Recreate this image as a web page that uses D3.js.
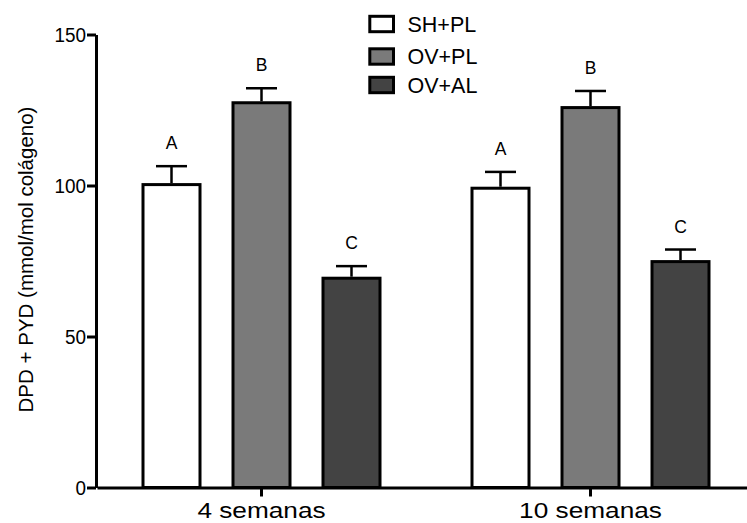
<!DOCTYPE html>
<html>
<head>
<meta charset="utf-8">
<script src="https://cdn.jsdelivr.net/npm/d3@7"></script>
<style>
  body { margin: 0; background: #fff; }
  text { font-family: "Liberation Sans", Arial, sans-serif; fill: #000; }
</style>
</head>
<body>
<script>
// data
var groups = ["4 semanas", "10 semanas"];
var series = ["SH+PL", "OV+PL", "OV+AL"];
var colors = ["#ffffff", "#7a7a7a", "#434343"];
var means4 = [100.3, 127.4, 69.3];
var sem4 = [6.1, 4.8, 4.0];
var means10 = [99.1, 125.8, 74.8];
var sem10 = [5.4, 5.5, 4.0];
var letters = ["A", "B", "C"];
var yTicks = [0, 50, 100, 150];
var yTitle = "DPD + PYD (mmol/mol colágeno)";

var W = 747, H = 523;
var legendY = [24, 56.5, 85];

var rows = [];
groups.forEach(function(g, gi){
  var m = gi == 0 ? means4 : means10;
  var s = gi == 0 ? sem4 : sem10;
  series.forEach(function(k, i){
    rows.push({group: g, key: k, value: m[i], sem: s[i], color: colors[i], letter: letters[i]});
  });
});

var svg = d3.select("body").append("svg")
  .attr("width", W)
  .attr("height", H);

var y = d3.scaleLinear().domain([0, 150]).range([487.5, 34.5]);
var x0 = d3.scaleBand().domain(groups).range([97, 755]);
var x1 = d3.scalePoint().domain(series).range([74.5, 254.5]);
var barW = 57;

// bars
svg.selectAll("rect.bar")
  .data(rows)
  .enter().append("rect")
  .attr("class", "bar")
  .attr("x", function(d){ return x0(d.group) + x1(d.key) - barW/2; })
  .attr("y", function(d){ return y(d.value); })
  .attr("width", barW)
  .attr("height", function(d){ return y(0) - y(d.value); })
  .style("fill", function(d){ return d.color; })
  .style("stroke", "#000")
  .style("stroke-width", 3);

// error bars (upper only)
var eb = svg.selectAll("g.err")
  .data(rows)
  .enter().append("g")
  .attr("class", "err")
  .attr("transform", function(d){ return "translate(" + (x0(d.group) + x1(d.key)) + ",0)"; });

eb.append("line")
  .attr("x1", 0).attr("x2", 0)
  .attr("y1", function(d){ return y(d.value) - 1.5; })
  .attr("y2", function(d){ return y(d.value + d.sem); })
  .style("stroke", "#000").style("stroke-width", 2.5);

eb.append("line")
  .attr("x1", -15.5).attr("x2", 15.5)
  .attr("y1", function(d){ return y(d.value + d.sem); })
  .attr("y2", function(d){ return y(d.value + d.sem); })
  .style("stroke", "#000").style("stroke-width", 2.5);

eb.append("text")
  .attr("x", 0)
  .attr("y", function(d){ return y(d.value + d.sem) - 17; })
  .attr("text-anchor", "middle")
  .style("font-size", "17.5px")
  .text(function(d){ return d.letter; });

// y axis
var yAxis = svg.append("g")
  .attr("transform", "translate(96,0)")
  .call(d3.axisLeft(y).tickValues(yTicks).tickSize(9).tickSizeOuter(0).tickPadding(1));
yAxis.select(".domain").style("stroke-width", 3);
yAxis.selectAll(".tick line").style("stroke-width", 3);
yAxis.selectAll(".tick text")
  .attr("x", -11)
  .attr("transform", "scale(0.9,1)")
  .style("font-size", "21px")
  .style("font-family", "'Liberation Sans', Arial, sans-serif")
  .attr("fill", "#000");

// x axis
var xAxis = svg.append("g")
  .attr("transform", "translate(0," + y(0) + ")")
  .call(d3.axisBottom(x0).tickSize(9).tickSizeOuter(0));
xAxis.select(".domain").style("stroke-width", 3);
xAxis.selectAll(".tick line").style("stroke-width", 3);
xAxis.selectAll(".tick text")
  .attr("y", 30.5)
  .attr("dy", null)
  .attr("transform", "scale(1.22,1)")
  .style("font-size", "21.5px")
  .style("font-family", "'Liberation Sans', Arial, sans-serif")
  .attr("fill", "#000");

// y title
svg.append("text")
  .attr("transform", "rotate(-90)")
  .attr("x", -259.5)
  .attr("y", 33)
  .attr("text-anchor", "middle")
  .style("font-size", "20.5px")
  .text(yTitle);

// legend
var lg = svg.selectAll("g.legend")
  .data(series)
  .enter().append("g")
  .attr("class", "legend")
  .attr("transform", function(d, i){ return "translate(0," + legendY[i] + ")"; });

lg.append("rect")
  .attr("x", 369.8).attr("y", -7.7)
  .attr("width", 23.7).attr("height", 15.4)
  .style("fill", function(d, i){ return colors[i]; })
  .style("stroke", "#000").style("stroke-width", 3);

lg.append("text")
  .attr("x", 407.5)
  .attr("y", 7.8)
  .style("font-size", "21.5px")
  .text(function(d){ return d; });
</script>
</body>
</html>
